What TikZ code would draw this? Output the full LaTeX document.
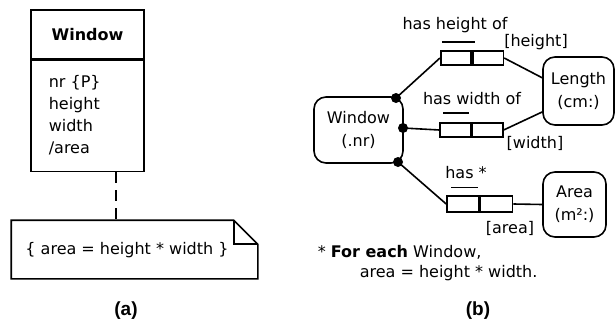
\documentclass[tikz,border=0pt]{standalone}
\usepackage{fontspec}
\setmainfont{DejaVu Sans}
\newfontfamily\labfont{Liberation Sans}
\usetikzlibrary{calc}
\begin{document}
\begin{tikzpicture}[x=1pt,y=-1pt, line width=1.6pt,
  txt/.style={font=\fontsize{16}{22}\selectfont, inner sep=0pt},
  box/.style={draw, inner sep=0pt},
  role/.style={draw, inner sep=0pt, minimum width=30.5pt, minimum height=14.5pt},
  ent/.style={draw, rounded corners=12pt, inner sep=0pt, align=center, font=\fontsize{16}{23}\selectfont},
  dotnode/.style={circle, fill, inner sep=0pt, minimum size=10pt},
  dashline/.style={dash pattern=on 11pt off 7pt},
  sublabel/.style={font=\labfont\bfseries\fontsize{19}{21}\selectfont, inner sep=0pt}
]
\useasboundingbox (0,0) rectangle (616,327);

% ---------- (a) ----------
\node[box, minimum width=113pt, minimum height=49pt, font=\fontsize{16}{22}\selectfont\bfseries] (hdr) at (87.5,34.5) {Window};
\node[box, minimum width=113pt, minimum height=111pt, anchor=north] (body) at (hdr.south) {};
\node[txt, align=left, anchor=west] (attrs) at (48,115) {nr \{P\}\\height\\width\\/area};

\node[minimum width=245pt, minimum height=57pt, inner sep=0pt] (note) at (134.5,249.5) {};
\draw (note.north west) -- ($(note.north east)+(-24,0)$) -- ($(note.north east)+(0,24)$) -- (note.south east) -- (note.south west) -- cycle;
\draw ($(note.north east)+(-24,0)$) -- ($(note.north east)+(-24,24)$) -- ($(note.north east)+(0,24)$);
\node[txt] (notetxt) at (127,250) {\{ area = height * width \}};

\coordinate (dl) at (116,0);
\draw[dashline] (body.south -| dl) -- (note.north -| dl);

\node[sublabel] (pa) at (126,311) {(a)};

% ---------- (b) ----------
\node[ent, minimum width=89pt, minimum height=66pt] (win) at (358.5,130) {Window\\(.nr)};
\node[ent, minimum width=71pt, minimum height=68pt] (len) at (578.5,91) {Length\\(cm:)};
\node[ent, minimum width=63pt, minimum height=65pt] (areaB) at (574.5,204.5) {Area\\(m²:)};

\node[role] (h1) at (456,58) {};
\node[role, anchor=west] (h2) at (h1.east) {};
\node[role] (w1) at (455.5,130) {};
\node[role, anchor=west] (w2) at (w1.east) {};
\node[role, minimum width=32pt, minimum height=15.5pt] (a1) at (463,204) {};
\node[role, minimum width=32pt, minimum height=15.5pt, anchor=west] (a2) at (a1.east) {};

\draw ($(h1.north west)+(2,-8)$) -- ($(h1.north east)+(3,-8)$);
\draw ($(w1.north west)+(4,-9)$) -- ($(w1.north east)+(-3,-9)$);
\draw ($(a1.north west)+(5,-8)$) -- ($(a1.north east)+(-2,-8)$);

\node[dotnode] (d1) at (396,98) {};
\node[dotnode] (d2) at (403,128) {};
\node[dotnode] (d3) at (398,162) {};

\draw (d1.center) -- (h1.west);
\draw (h2.east) -- (len.160);
\draw (d2.center) -- (w1.west);
\draw (w2.east) -- (len.210);
\draw (d3.center) -- (a1.west);
\draw (a2.east) -- (areaB.west);

\node[txt] (lh) at (455,25) {has height of};
\node[txt] (lhr) at (536,42) {[height]};
\node[txt] (lw) at (472,99) {has width of};
\node[txt] (lwr) at (535,143) {[width]};
\node[txt] (lar0) at (466,173) {has *};
\node[txt] (lar) at (510,228) {[area]};

\node[txt, anchor=west] (fn1) at (317,252) {* \textbf{For each} Window,};
\node[txt, anchor=west] (fn2) at (359,273) {area = height * width.};

\node[sublabel] (pb) at (478,311) {(b)};
\end{tikzpicture}
\end{document}
